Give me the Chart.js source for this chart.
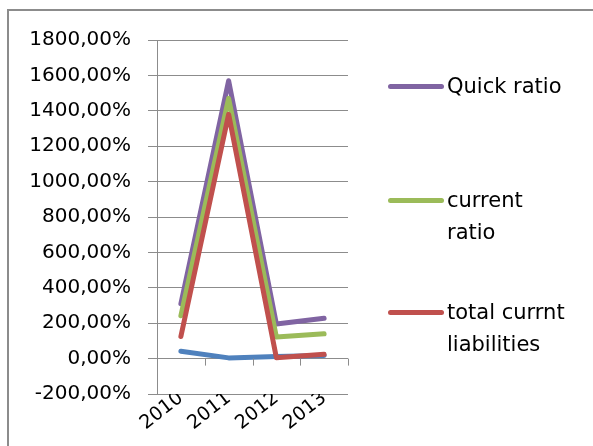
<!DOCTYPE html>
<html lang="en">
<head>
    <meta charset="UTF-8">
    <title>Ratios 2010-2013</title>
    <script src="https://cdn.jsdelivr.net/npm/chart.js"></script>
    <style>
        body {
            margin: 0;
            width: 593px;
            height: 446px;
            overflow: hidden;
            background-color: white;
            font-family: "DejaVu Sans", sans-serif;
        }
        .frame {
            position: absolute;
            left: 7px;
            top: 9px;
            width: 586px;
            height: 437px;
            border-left: 2px solid #8c8c8c;
            border-top: 2px solid #8c8c8c;
            box-sizing: border-box;
        }
        .chart-container {
            position: absolute;
            left: 0;
            top: 0;
            width: 593px;
            height: 446px;
        }
        .legend {
            position: absolute;
            left: 388px;
            top: 0;
        }
        .legend-item {
            position: absolute;
            left: 0;
            width: 200px;
        }
        .legend-line {
            position: absolute;
            left: 0;
            width: 56px;
            height: 5px;
            border-radius: 3px;
        }
        .legend-text {
            position: absolute;
            left: 59px;
            font-size: 21px;
            line-height: 32px;
            color: #000;
            white-space: nowrap;
        }
    </style>
</head>
<body>
    <div class="frame"></div>
    <div class="chart-container">
        <canvas id="ratioChart"></canvas>
    </div>
    <div class="legend" id="legend"></div>

    <script>
        const years = ['2010', '2011', '2012', '2013'];

        // values in %
        const quickRatio = [310, 1570, 195, 228];
        const currentRatio = [242, 1470, 122, 140];
        const totalCurrntLiabilities = [125, 1380, 5, 24];
        const blueSeries = [42, 4, 12, 18];

        const yMin = -200;
        const yMax = 1800;
        const yStep = 200;

        // legend rows: label lines and vertical position of first line
        const legendRows = [
            { lines: ['Quick ratio'], color: '#8064A2', y: 86 },
            { lines: ['current', 'ratio'], color: '#9BBB59', y: 200 },
            { lines: ['total currnt', 'liabilities'], color: '#C0504D', y: 312 }
        ];

        function pct(v) {
            return v.toFixed(2).replace('.', ',') + '%';
        }

        // small tick marks on the zero line between categories
        const zeroTicks = {
            id: 'zeroTicks',
            afterDatasetsDraw(chart) {
                const x = chart.scales.x;
                const y = chart.scales.y;
                const ctx = chart.ctx;
                const y0 = y.getPixelForValue(0);
                const w = (x.right - x.left) / years.length;
                ctx.save();
                ctx.strokeStyle = '#8c8c8c';
                ctx.lineWidth = 1;
                ctx.beginPath();
                for (let i = 1; i <= years.length; i++) {
                    const px = Math.round(x.left + i * w) + 0.5;
                    ctx.moveTo(px, y0);
                    ctx.lineTo(px, y0 + 7);
                }
                ctx.stroke();
                ctx.restore();
            }
        };

        const lineStyle = {
            borderWidth: 5,
            pointRadius: 0,
            tension: 0,
            borderCapStyle: 'round',
            borderJoinStyle: 'round',
            fill: false
        };

        const ctx = document.getElementById('ratioChart').getContext('2d');
        new Chart(ctx, {
            type: 'line',
            data: {
                labels: years,
                datasets: [
                    { label: '', data: blueSeries, borderColor: '#4F81BD', order: 3, ...lineStyle },
                    { label: 'Quick ratio', data: quickRatio, borderColor: '#8064A2', order: 2, ...lineStyle },
                    { label: 'current ratio', data: currentRatio, borderColor: '#9BBB59', order: 1, ...lineStyle },
                    { label: 'total currnt liabilities', data: totalCurrntLiabilities, borderColor: '#C0504D', order: 0, ...lineStyle }
                ]
            },
            options: {
                responsive: true,
                maintainAspectRatio: false,
                animation: false,
                layout: {
                    padding: { top: 40, right: 245, bottom: 0, left: 0 }
                },
                plugins: {
                    legend: { display: false },
                    tooltip: { enabled: false }
                },
                scales: {
                    x: {
                        offset: true,
                        grid: { display: false, drawTicks: false },
                        border: { display: false },
                        ticks: {
                            color: '#000',
                            font: { family: 'DejaVu Sans', size: 19 },
                            minRotation: 38,
                            maxRotation: 38,
                            padding: -7
                        },
                        afterFit(scale) {
                            scale.height = 52;
                        }
                    },
                    y: {
                        min: yMin,
                        max: yMax,
                        ticks: {
                            stepSize: yStep,
                            color: '#000',
                            font: { family: 'DejaVu Sans', size: 20 },
                            padding: 17,
                            callback: v => pct(v)
                        },
                        grid: {
                            color: '#8c8c8c',
                            lineWidth: 1,
                            tickLength: 9
                        },
                        border: { display: true, color: '#8c8c8c', width: 1 },
                        afterFit(scale) {
                            scale.width = 157;
                        }
                    }
                }
            },
            plugins: [zeroTicks]
        });

        const legend = document.getElementById('legend');
        legendRows.forEach(row => {
            const item = document.createElement('div');
            item.className = 'legend-item';
            item.style.top = (row.y - 16) + 'px';
            const line = document.createElement('div');
            line.className = 'legend-line';
            line.style.top = '14px';
            line.style.background = row.color;
            const text = document.createElement('div');
            text.className = 'legend-text';
            text.style.top = '0px';
            text.innerHTML = row.lines.join('<br>');
            item.appendChild(line);
            item.appendChild(text);
            legend.appendChild(item);
        });
    </script>
</body>
</html>
